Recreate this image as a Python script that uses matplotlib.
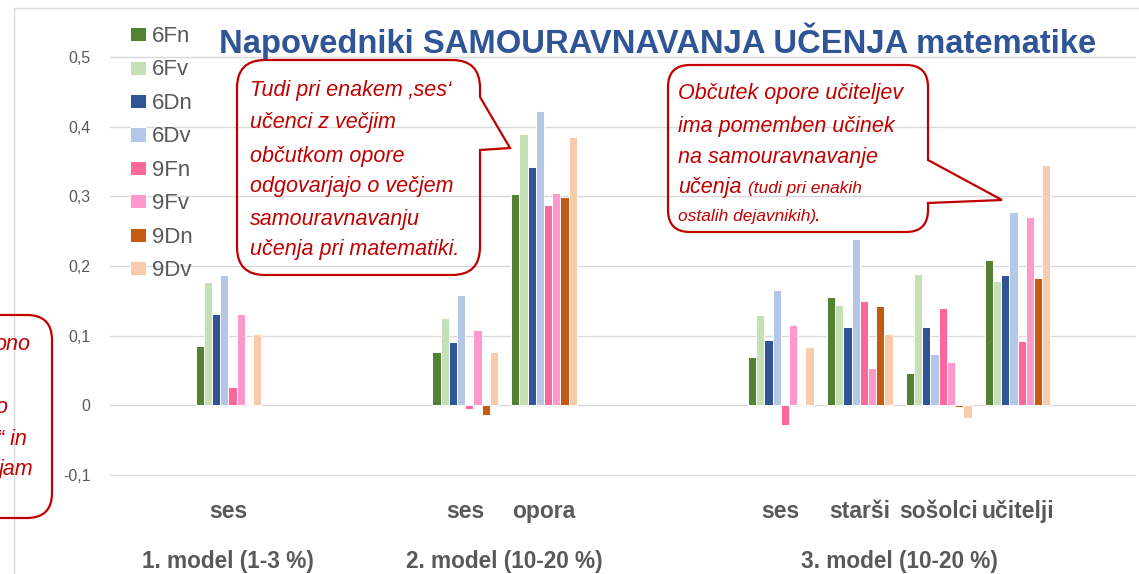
import numpy as np
import matplotlib.pyplot as plt
import matplotlib.transforms as mtransforms
from matplotlib.path import Path
from matplotlib.patches import PathPatch, Rectangle

plt.rcParams['font.family'] = ['Liberation Sans', 'DejaVu Sans']

# data
categories = ['', 'ses', '', '', 'ses', 'opora', '', '', 'ses', 'starši', 'sošolci', 'učitelji', '']
group_labels = ['1. model (1-3 %)', '2. model (10-20 %)', '3. model (10-20 %)']
group_spans = [(1, 1), (4, 5), (8, 11)]
series_names = ['6Fn', '6Fv', '6Dn', '6Dv', '9Fn', '9Fv', '9Dn', '9Dv']
N = None
v_6Fn = [N, 0.085, N, N, 0.076, 0.303, N, N, 0.070, 0.155, 0.047, 0.209, N]
v_6Fv = [N, 0.177, N, N, 0.126, 0.390, N, N, 0.129, 0.144, 0.189, 0.178, N]
v_6Dn = [N, 0.131, N, N, 0.091, 0.342, N, N, 0.094, 0.112, 0.112, 0.187, N]
v_6Dv = [N, 0.187, N, N, 0.158, 0.422, N, N, 0.166, 0.239, 0.073, 0.278, N]
v_9Fn = [N, 0.026, N, N, -0.005, 0.288, N, N, -0.028, 0.150, 0.139, 0.092, N]
v_9Fv = [N, 0.131, N, N, 0.108, 0.305, N, N, 0.116, 0.053, 0.062, 0.271, N]
v_9Dn = [N, 0.002, N, N, -0.014, 0.299, N, N, 0.002, 0.142, -0.003, 0.183, N]
v_9Dv = [N, 0.102, N, N, 0.076, 0.385, N, N, 0.083, 0.102, -0.018, 0.345, N]
series_values = [v_6Fn, v_6Fv, v_6Dn, v_6Dv, v_9Fn, v_9Fv, v_9Dn, v_9Dv]
colors = ['#548235', '#C5E0B4', '#2F5597', '#B4C7E7', '#FF6699', '#FF99CC', '#C55A11', '#F8CBAD']
yticks = [-0.1, 0.0, 0.1, 0.2, 0.3, 0.4, 0.5]
ytick_labels = ['-0,1', '0', '0,1', '0,2', '0,3', '0,4', '0,5']

title = 'Napovedniki SAMOURAVNAVANJA UČENJA matematike'
note1 = ['Tudi pri enakem ‚ses‘', 'učenci z večjim', 'občutkom opore',
         'odgovarjajo o večjem', 'samouravnavanju', 'učenja pri matematiki.']
note2 = ['Občutek opore učiteljev', 'ima pomemben učinek', 'na samouravnavanje', 'učenja']
note2_small = ['(tudi pri enakih', 'ostalih dejavnikih)']
note_left = ['ono', 'o', '“ in', 'jam']

RED = '#C00000'
GRAY = '#595959'
W, H = 1139, 574

fig = plt.figure(figsize=(W / 100, H / 100), dpi=100)
ax = fig.add_axes([110 / W, 1 - 476 / H, (1136 - 110) / W, (476 - 56) / H])


def px(x, y):
    return (x / W, 1 - y / H)


x = np.arange(len(categories))
bw = 0.104
n = len(series_names)
for i, (name, vals, col) in enumerate(zip(series_names, series_values, colors)):
    v = np.array([np.nan if a is None else a for a in vals], dtype=float)
    ax.bar(x + (i - (n - 1) / 2) * bw, v, bw, color=col, edgecolor='white',
           linewidth=0.7, label=name, zorder=3)

ax.set_xlim(-0.5, len(categories) - 0.5)
ax.set_ylim(-0.1015, 0.5015)
ax.set_yticks(yticks, ytick_labels)
ax.set_xticks([])
ax.grid(axis='y', color='#D9D9D9', lw=1)
ax.set_axisbelow(True)
for s in ax.spines.values():
    s.set_visible(False)
ax.tick_params(axis='y', length=0, labelsize=11.5, labelcolor=GRAY, pad=14)

tr = mtransforms.blended_transform_factory(ax.transData, fig.transFigure)
for xi, c in zip(x, categories):
    if c:
        ax.text(xi, 1 - 518 / H, c, transform=tr, ha='center', va='baseline',
                fontsize=16.5, fontweight='bold', color=GRAY)
for lab, (a, b) in zip(group_labels, group_spans):
    ax.text((a + b) / 2, 1 - 568 / H, lab, transform=tr, ha='center', va='baseline',
            fontsize=16.3, fontweight='bold', color=GRAY)

fig.legend(loc='upper left', bbox_to_anchor=px(130, 26), frameon=False,
           fontsize=16, labelspacing=0.56, handlelength=0.7, handleheight=0.6,
           handletextpad=0.3, borderpad=0, borderaxespad=0, labelcolor=GRAY)

fig.text(*px(658, 53), title, ha='center', va='baseline', fontsize=23.6,
         fontweight='bold', color='#2F5597')

# chart border
fig.add_artist(Rectangle(px(14, 700), 2, (700 - 8) / H, transform=fig.transFigure,
                         fc='none', ec='#D9D9D9', lw=1))


def callout(x0, y0, x1, y1, r, ptr=None):
    verts = [(x0 + r, y0), (x1 - r, y0), (x1, y0), (x1, y0 + r)]
    codes = [Path.MOVETO, Path.LINETO, Path.CURVE3, Path.CURVE3]
    if ptr:
        ya, tx, ty, yb = ptr
        verts += [(x1, ya), (tx, ty), (x1, yb)]
        codes += [Path.LINETO] * 3
    verts += [(x1, y1 - r), (x1, y1), (x1 - r, y1), (x0 + r, y1), (x0, y1), (x0, y1 - r),
              (x0, y0 + r), (x0, y0), (x0 + r, y0)]
    codes += [Path.LINETO, Path.CURVE3, Path.CURVE3, Path.LINETO, Path.CURVE3, Path.CURVE3,
              Path.LINETO, Path.CURVE3, Path.CURVE3]
    verts = [px(a, b) for a, b in verts]
    fig.add_artist(PathPatch(Path(verts, codes), transform=fig.transFigure,
                             fc='none', ec=RED, lw=1.6, zorder=5))


callout(237, 60, 480, 275, 28, (97, 510, 148, 150))
callout(668, 65, 928, 232, 22, (160, 1002, 200, 203))
callout(-80, 315, 52, 518, 25)

for line, yb in zip(note1, [96, 128, 162, 192, 225, 255]):
    fig.text(*px(250, yb), line, ha='left', va='baseline', fontsize=15.5,
             style='italic', color=RED)
for line, yb in zip(note2, [99, 132, 163, 193]):
    fig.text(*px(678, yb), line, ha='left', va='baseline', fontsize=15.5,
             style='italic', color=RED)
fig.text(*px(748, 193), note2_small[0], ha='left', va='baseline', fontsize=12.5,
         style='italic', color=RED)
fig.text(*px(678, 221), note2_small[1], ha='left', va='baseline', fontsize=12.5,
         style='italic', color=RED)
fig.text(*px(814, 221), '.', ha='left', va='baseline', fontsize=15.5,
         style='italic', color=RED)
for line, xr, yb in zip(note_left, [30, 7, 27, 33], [350, 413, 445, 475]):
    fig.text(*px(xr, yb), line, ha='right', va='baseline', fontsize=15.5,
             style='italic', color=RED)

fig.savefig('out.png', dpi=100)
